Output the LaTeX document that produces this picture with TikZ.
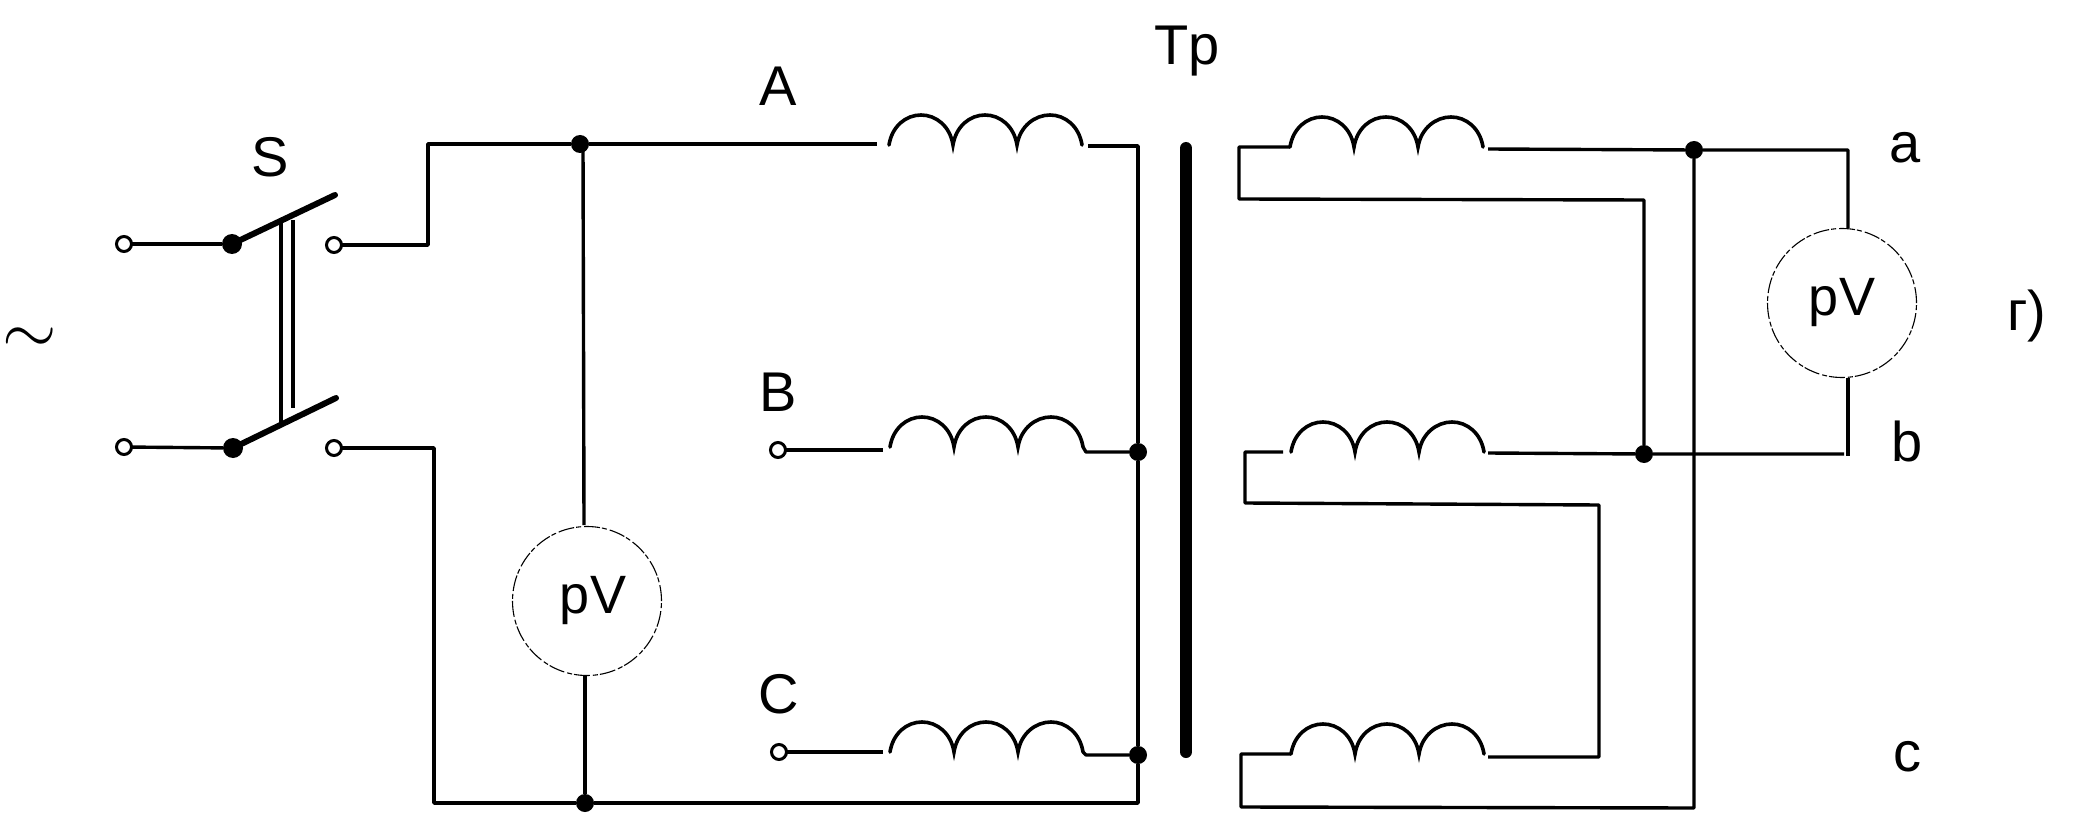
\documentclass[tikz,border=0pt]{standalone}
\usepackage{fontspec}
\setmainfont{Liberation Sans}
\tikzset{
  x=1pt,y=-1pt,
  wire/.style={line width=3.4pt,line join=round},
  lever/.style={line width=6pt,line cap=round},
  tie/.style={line width=3.4pt},
  core/.style={line width=12pt,line cap=round},
  openterm/.style={circle,draw,fill=white,line width=3pt,minimum size=15pt,inner sep=0pt,outer sep=0pt},
  swdot/.style={circle,fill=black,minimum size=20pt,inner sep=0pt,outer sep=0pt},
  jdot/.style={circle,fill=black,minimum size=18pt,inner sep=0pt,outer sep=0pt},
  meter/.style={circle,draw,line width=1.1pt,dash pattern=on 16pt off 3pt on 5pt off 2pt,minimum size=149pt,inner sep=0pt,outer sep=0pt,font=\fontsize{54}{54}\selectfont},
  lab/.style={inner sep=0pt,outer sep=0pt,font=\fontsize{56}{56}\selectfont},
  coilwind/.pic={
    \coordinate (-s) at (0,0);
    \coordinate (-e) at (193,0);
    \draw[line width=3.6pt,line cap=round,line join=miter]
      (0,0) .. controls (3,-19) and (17,-30) .. (32,-30) .. controls (47,-30) and (61,-19) .. (64,0)
      .. controls (67,-19) and (81,-30) .. (96,-30) .. controls (111,-30) and (125,-19) .. (128,0)
      .. controls (131,-19) and (146,-30) .. (161,-30) .. controls (176,-30) and (190,-19) .. (193,0);
  }
}
\begin{document}
\begin{tikzpicture}
\path[fill=white,use as bounding box] (0,0) rectangle (2080,829);
% labels
\node[inner sep=0pt,scale=7] (tilde) at (30,341) {$\sim$};
\node[lab] (S) at (270,157) {S};
\node[lab,anchor=base] (A) at (778,106) {A};
\node[lab,anchor=base] (B) at (778,411) {B};
\node[lab,anchor=base] (C) at (779,713) {C};
\node[lab,anchor=base] (Tp) at (1187,65) {Tp};
\node[lab,anchor=base] (a) at (1905,163) {a};
\node[lab,anchor=base] (b) at (1907,461) {b};
\node[lab,anchor=base] (c) at (1907,771) {c};
\node[lab,anchor=base] (gam) at (2027,330) {г)};
% switch
\node[openterm] (t1) at (124,244) {};
\node[swdot] (d1) at (232,244) {};
\node[openterm] (r1) at (334,245) {};
\node[openterm] (t2) at (124,447) {};
\node[swdot] (d2) at (233,448) {};
\node[openterm] (r2) at (334,448) {};
\coordinate (l1) at (335,195);
\coordinate (l2) at (336,398);
\draw[wire] (t1) -- (d1);
\draw[wire] (t2) -- (d2);
\draw[lever] (d1.center) -- (l1);
\draw[lever] (d2.center) -- (l2);
\coordinate (tie1a) at (281,223);
\coordinate (tie1b) at (281,422);
\coordinate (tie2a) at (293,220);
\coordinate (tie2b) at (293,408);
\draw[tie] (tie1a) -- (tie1b);
\draw[tie] (tie2a) -- (tie2b);
% primary coils
\pic (p1) at (889,145) {coilwind};
\pic (p2) at (890,447) {coilwind};
\pic (p3) at (890,752) {coilwind};
% secondary coils
\pic (s1) at (1290,147) {coilwind};
\pic (s2) at (1291,452) {coilwind};
\pic (s3) at (1291,754) {coilwind};
% core
\coordinate (coreT) at (1186,148);
\coordinate (coreB) at (1186,752);
\draw[core] (coreT) -- (coreB);
% junctions
\node[jdot] (jA) at (580,144) {};
\node[jdot] (jN) at (585,803) {};
\node[jdot] (jB) at (1138,452) {};
\node[jdot] (jC) at (1138,755) {};
\node[jdot] (ja) at (1694,150) {};
\node[jdot] (jb) at (1644,454) {};
% meters
\node[meter] (V1) at (587,601) {\hspace*{12pt}pV};
\node[meter] (V2) at (1842,303) {pV};
% terminals B, C
\node[openterm] (tB) at (778,450) {};
\node[openterm] (tC) at (779,752) {};
% primary wiring
\coordinate (k1) at (428,245);
\coordinate (k2) at (428,144);
\coordinate (k3) at (434,448);
\coordinate (k4) at (434,803);
\coordinate (pA) at (877,144);
\coordinate (p1r) at (1088,146);
\coordinate (ptop) at (1138,146);
\coordinate (pbot) at (1138,803);
\draw[wire] (r1) -- (k1) -- (k2) -- (jA) -- (pA);
\draw[wire] (r2) -- (k3) -- (k4) -- (jN);
\coordinate (vtop) at (583,146);
\coordinate (vt) at (584,525);
\draw[wire] (vtop) -- (vt);
\draw[wire] (jN) -- (jN |- V1.south);
\draw[wire] (jN) -- (pbot) -- (jC) -- (jB) -- (ptop) -- (p1r);
\coordinate (pBl) at (883,450);
\coordinate (pCl) at (883,752);
\draw[wire] (tB) -- (pBl);
\draw[wire] (tC) -- (pCl);
\coordinate (p2k) at (1086,452);
\coordinate (p3k) at (1086,755);
\draw[wire] (p2-e) -- (p2k) -- (jB);
\draw[wire] (p3-e) -- (p3k) -- (jC);
% secondary wiring
\coordinate (s1a) at (1239,147);
\coordinate (s1b) at (1239,199);
\coordinate (s1c) at (1644,200);
\draw[wire] (s1-s) -- (s1a) -- (s1b) -- (s1c) -- (jb);
\coordinate (s1r) at (1488,149);
\coordinate (rk1) at (1848,150);
\coordinate (rt) at (1848,228);
\draw[wire] (s1r) -- (ja) -- (rk1) -- (rt);
\coordinate (s2r) at (1488,453);
\coordinate (rk2) at (1844,454);
\coordinate (rb) at (1848,378);
\coordinate (rb2) at (1848,456);
\draw[wire] (s2r) -- (jb) -- (rk2);
\draw[wire] (rb) -- (rb2);
\coordinate (s2a) at (1283,452);
\coordinate (s2b) at (1245,452);
\coordinate (s2c) at (1245,503);
\coordinate (s2d) at (1599,505);
\coordinate (s2e) at (1599,757);
\coordinate (s3r) at (1488,757);
\draw[wire] (s2a) -- (s2b) -- (s2c) -- (s2d) -- (s2e) -- (s3r);
\coordinate (s3a) at (1241,754);
\coordinate (s3b) at (1241,807);
\coordinate (s3c) at (1694,808);
\draw[wire] (s3-s) -- (s3a) -- (s3b) -- (s3c) -- (ja);
\end{tikzpicture}
\end{document}
